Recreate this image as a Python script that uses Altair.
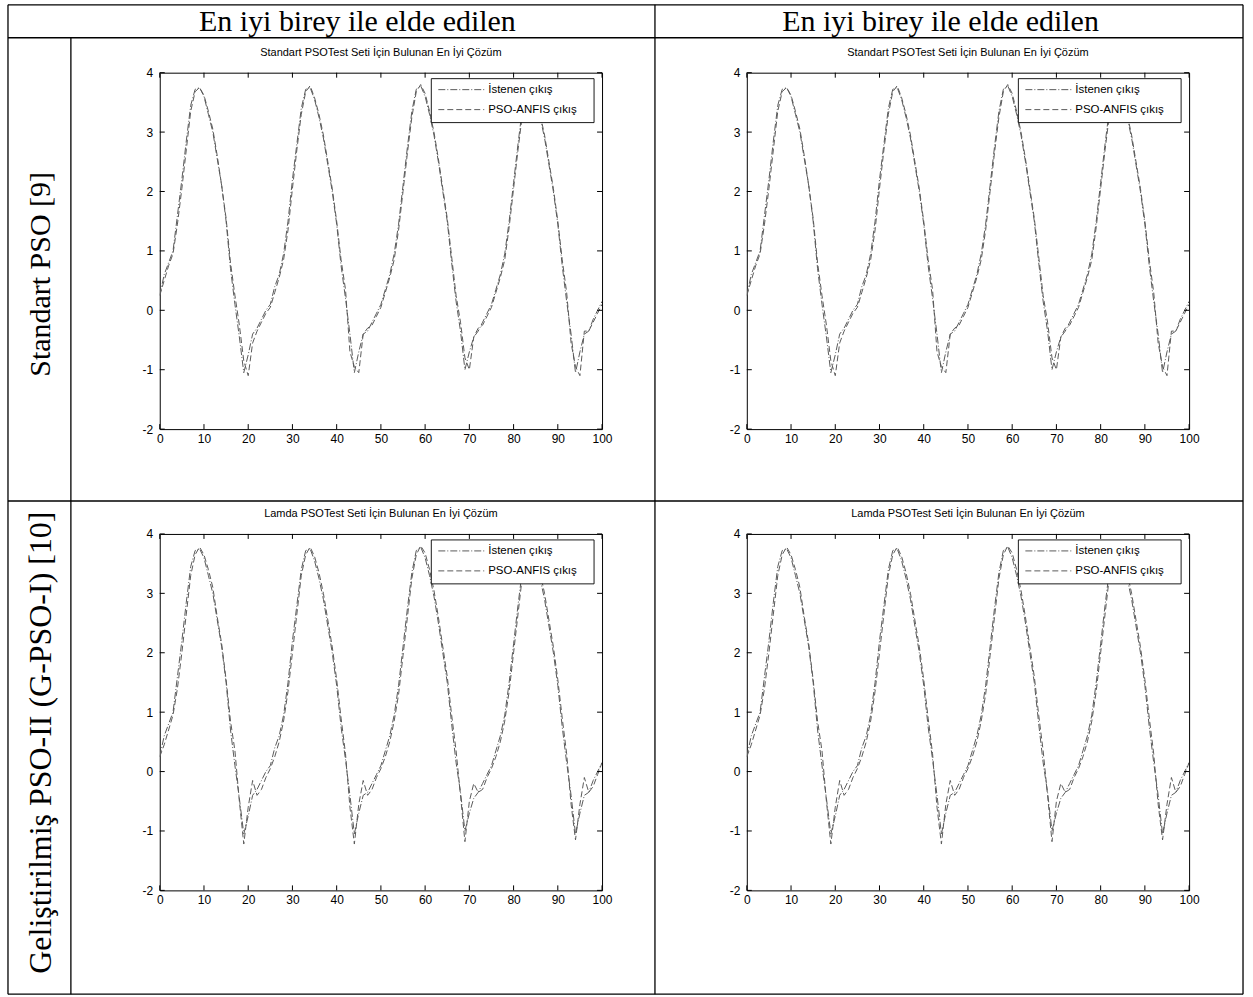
import altair as alt
import pandas as pd

# ---- data -------------------------------------------------------------
x_vals = list(range(101))

istenen = [
    0.25, 0.60, 0.80, 1.00, 1.60, 2.20, 2.85, 3.45, 3.72, 3.75,
    3.60, 3.30, 3.00, 2.55, 2.10, 1.50, 0.70, 0.10, -0.45, -1.05,
    -0.75, -0.40, -0.30, -0.15, 0.00, 0.10, 0.40, 0.60, 0.95, 1.50,
    2.20, 2.80, 3.40, 3.72, 3.75, 3.55, 3.25, 2.90, 2.45, 2.00,
    1.45, 0.75, 0.20, -0.40, -1.05, -0.70, -0.40, -0.35, -0.20, -0.05,
    0.10, 0.35, 0.60, 0.95, 1.45, 2.10, 2.75, 3.35, 3.72, 3.78,
    3.60, 3.30, 2.95, 2.50, 2.00, 1.50, 0.80, 0.15, -0.35, -1.00,
    -0.70, -0.45, -0.35, -0.20, -0.05, 0.10, 0.35, 0.60, 0.95, 1.50,
    2.15, 2.80, 3.40, 3.72, 3.75, 3.55, 3.25, 2.90, 2.45, 2.00,
    1.45, 0.75, 0.15, -0.40, -1.05, -0.70, -0.40, -0.35, -0.15, 0.00,
    0.15,
]

anfis_standart = [
    0.25, 0.50, 0.75, 0.95, 1.45, 2.05, 2.70, 3.35, 3.68, 3.75,
    3.62, 3.35, 3.05, 2.60, 2.10, 1.55, 0.80, 0.25, -0.25, -0.85,
    -1.10, -0.55, -0.35, -0.20, -0.05, 0.05, 0.30, 0.55, 0.85, 1.35,
    2.05, 2.70, 3.30, 3.68, 3.78, 3.58, 3.30, 2.95, 2.50, 2.05,
    1.50, 0.85, 0.35, -0.70, -0.95, -1.05, -0.40, -0.30, -0.25, -0.10,
    0.05, 0.30, 0.55, 0.85, 1.35, 2.00, 2.65, 3.25, 3.68, 3.80,
    3.65, 3.35, 3.00, 2.55, 2.05, 1.55, 0.90, 0.25, -0.20, -0.80,
    -1.00, -0.45, -0.30, -0.25, -0.10, 0.05, 0.30, 0.55, 0.85, 1.40,
    2.05, 2.70, 3.30, 3.68, 3.78, 3.60, 3.30, 2.95, 2.50, 2.05,
    1.50, 0.85, 0.30, -0.55, -0.95, -1.10, -0.35, -0.35, -0.20, -0.05,
    0.10,
]

anfis_lamda = [
    0.25, 0.45, 0.70, 0.95, 1.40, 2.00, 2.65, 3.30, 3.65, 3.78,
    3.65, 3.40, 3.10, 2.60, 2.15, 1.55, 0.85, 0.35, -0.50, -1.22,
    -0.60, -0.15, -0.40, -0.30, -0.10, 0.05, 0.25, 0.50, 0.85, 1.35,
    2.00, 2.65, 3.30, 3.65, 3.78, 3.62, 3.35, 3.00, 2.55, 2.10,
    1.55, 0.90, 0.30, -0.60, -1.22, -0.55, -0.15, -0.40, -0.30, -0.10,
    0.05, 0.25, 0.50, 0.85, 1.30, 1.95, 2.60, 3.25, 3.65, 3.80,
    3.68, 3.40, 3.05, 2.60, 2.10, 1.60, 0.95, 0.35, -0.40, -1.18,
    -0.50, -0.20, -0.35, -0.30, -0.10, 0.05, 0.25, 0.50, 0.85, 1.35,
    2.00, 2.65, 3.30, 3.65, 3.78, 3.62, 3.35, 3.00, 2.55, 2.10,
    1.55, 0.90, 0.30, -0.55, -1.15, -0.55, -0.10, -0.35, -0.25, -0.05,
    0.15,
]

series_names = ["İstenen çıkış", "PSO-ANFIS çıkış"]
x_ticks = [0, 10, 20, 30, 40, 50, 60, 70, 80, 90, 100]
y_ticks = [-2, -1, 0, 1, 2, 3, 4]

title_std = "Standart PSOTest Seti İçin Bulunan En İyi Çözüm"
title_lamda = "Lamda PSOTest Seti İçin Bulunan En İyi Çözüm"
header_text = "En iyi birey ile elde edilen"
row_labels = ["Standart PSO [9]", "Geliştirilmiş PSO-II (G-PSO-I) [10]"]

# ---- layout -----------------------------------------------------------
PAGE_W, PAGE_H = 1253, 997
W, H = 443, 357            # plot area of each panel
OX, OY = 159, 71           # page position of the first panel's plot area
COL_GAP, ROW_GAP = 145, 105

LINE_COLOR = "#5a5a5a"
DASHES = [[7, 2, 1, 2], [6, 3]]
SANS = "Liberation Sans"
SERIF = "Liberation Serif"

xs = alt.Scale(domain=[0, 100], nice=False, zero=False)
ys = alt.Scale(domain=[-2, 4], nice=False, zero=False)

# plain hyphen for negative numbers
PLAIN_LABEL = "datum.value < 0 ? '-' + abs(datum.value) : '' + datum.value"
axis_style = dict(domain=False, ticks=False, grid=False, labelFont=SANS,
                  labelFontSize=12, labelColor="black", labelFlush=False,
                  labelExpr=PLAIN_LABEL)
x_axis = alt.Axis(values=x_ticks, labelPadding=4, **axis_style)
y_axis = alt.Axis(values=y_ticks, labelPadding=7, **axis_style)


def one_row():
    return alt.Data(values=[{"k": 0}])


def page_x(v):
    return alt.value(v - OX)


def page_y(v):
    return alt.value(v - OY)


def table_layers():
    """Page extent, table grid and the header / row texts (page coordinates)."""
    left, right, top, bottom = 7, 1244, 3, 994
    head_bottom, label_col, col_div, row_div = 36, 70, 655, 500
    layers = [
        # transparent sheet spanning the whole page fixes the canvas extent
        alt.Chart(one_row()).mark_rect(fill="white", fillOpacity=0, strokeWidth=0).encode(
            x=page_x(0), x2=page_x(PAGE_W), y=page_y(0), y2=page_y(PAGE_H)
        )
    ]
    h_lines = [(top, left, right), (head_bottom, left, right),
               (row_div, left, right), (bottom, left, right)]
    v_lines = [(left, top, bottom), (label_col, head_bottom, bottom),
               (col_div, top, bottom), (right, top, bottom)]
    for yy, a, b in h_lines:
        layers.append(alt.Chart(one_row()).mark_rule(color="black", strokeWidth=1.3).encode(
            y=page_y(yy), x=page_x(a), x2=page_x(b)))
    for xx, a, b in v_lines:
        layers.append(alt.Chart(one_row()).mark_rule(color="black", strokeWidth=1.3).encode(
            x=page_x(xx), y=page_y(a), y2=page_y(b)))
    for cx in (357, 941):
        layers.append(alt.Chart(one_row()).mark_text(
            font=SERIF, fontSize=30, color="black", baseline="middle", align="center"
        ).encode(x=page_x(cx), y=page_y(20), text=alt.value(header_text)))
    for cy, size, label in zip((273, 742), (30, 32), row_labels):
        layers.append(alt.Chart(one_row()).mark_text(
            font=SERIF, fontSize=size, color="black", baseline="middle", align="center", angle=270
        ).encode(x=page_x(40), y=page_y(cy), text=alt.value(label)))
    return layers


def panel(title, anfis, with_table=False):
    df = pd.DataFrame({
        "x": x_vals * 2,
        "y": istenen + anfis,
        "seri": [series_names[0]] * len(x_vals) + [series_names[1]] * len(x_vals),
    })

    lines = alt.Chart(df).mark_line(strokeWidth=1, color=LINE_COLOR, clip=True).encode(
        x=alt.X("x:Q", scale=xs, title=None, axis=x_axis),
        y=alt.Y("y:Q", scale=ys, title=None, axis=y_axis),
        strokeDash=alt.StrokeDash("seri:N", legend=None,
                                  scale=alt.Scale(domain=series_names, range=DASHES)),
    )

    # inward tick marks on all four sides of the box
    xt = pd.DataFrame({"t": x_ticks})
    yt = pd.DataFrame({"t": y_ticks})
    tick = dict(color="black", strokeWidth=1)
    ticks = [
        alt.Chart(xt).mark_rule(**tick).encode(
            x=alt.X("t:Q", scale=xs, title=None, axis=x_axis), y=alt.value(H), y2=alt.value(H - 5)),
        alt.Chart(xt).mark_rule(**tick).encode(
            x=alt.X("t:Q", scale=xs, title=None, axis=x_axis), y=alt.value(0), y2=alt.value(5)),
        alt.Chart(yt).mark_rule(**tick).encode(
            y=alt.Y("t:Q", scale=ys, title=None, axis=y_axis), x=alt.value(0), x2=alt.value(5)),
        alt.Chart(yt).mark_rule(**tick).encode(
            y=alt.Y("t:Q", scale=ys, title=None, axis=y_axis), x=alt.value(W), x2=alt.value(W - 5)),
    ]

    # panel heading
    heading = alt.Chart(one_row()).mark_text(
        font=SANS, fontSize=11, color="black", align="center", baseline="middle"
    ).encode(x=alt.value(W / 2), y=alt.value(-20), text=alt.value(title))

    # legend box in the upper right corner
    lx0, lx1, ly0, ly1 = 272, 435, 6, 50
    legend = [
        alt.Chart(one_row()).mark_rect(fill="white", stroke="black", strokeWidth=0.9).encode(
            x=alt.value(lx0), x2=alt.value(lx1), y=alt.value(ly0), y2=alt.value(ly1)),
    ]
    for i, name in enumerate(series_names):
        yy = 17 + 20 * i
        legend.append(alt.Chart(one_row()).mark_rule(
            color=LINE_COLOR, strokeWidth=1, strokeDash=DASHES[i]
        ).encode(x=alt.value(279), x2=alt.value(325), y=alt.value(yy)))
        legend.append(alt.Chart(one_row()).mark_text(
            font=SANS, fontSize=11.5, color="black", align="left", baseline="middle"
        ).encode(x=alt.value(329), y=alt.value(yy), text=alt.value(name)))

    layers = (table_layers() if with_table else []) + [lines] + ticks + [heading] + legend
    return alt.layer(*layers).properties(width=W, height=H)


chart = alt.concat(
    panel(title_std, anfis_standart, with_table=True),
    panel(title_std, anfis_standart),
    panel(title_lamda, anfis_lamda),
    panel(title_lamda, anfis_lamda),
    columns=2,
    spacing={"row": ROW_GAP, "column": COL_GAP},
    bounds="flush",
).properties(
    padding=0, background="white"
).configure_view(
    stroke="black", strokeWidth=1
)

chart.save("out.html", embed_options={"renderer": "svg", "actions": False})
